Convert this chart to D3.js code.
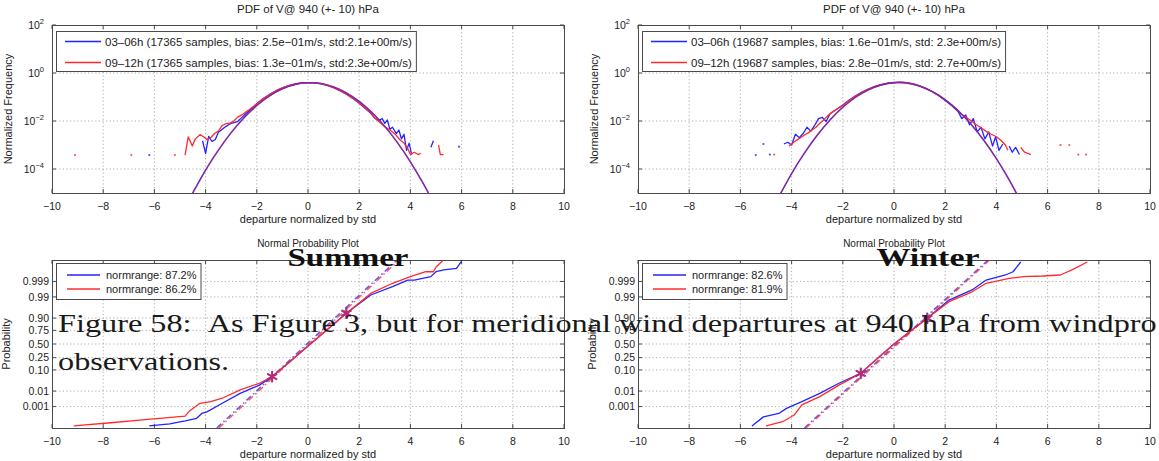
<!DOCTYPE html>
<html>
<head>
<meta charset="utf-8">
<script src="https://cdn.jsdelivr.net/npm/d3@7"></script>
<style>
  body { margin: 0; background: #fff; }
  svg { display: block; }
</style>
</head>
<body>
<svg id="fig" width="1159" height="461"></svg>
<script>
// ---------------- data ----------------
const xTicks = [-10, -8, -6, -4, -2, 0, 2, 4, 6, 8, 10];
const pdfTickExponents = [2, 0, -2, -4];
const probTicks = [0.001, 0.01, 0.10, 0.25, 0.50, 0.75, 0.90, 0.99, 0.999];
const probTickLabels = ["0.001", "0.01", "0.10", "0.25", "0.50", "0.75", "0.90", "0.99", "0.999"];

const pdfTitle = "PDF of V@ 940 (+- 10) hPa";
const probTitle = "Normal Probability Plot";
const xLabel = "departure normalized by std";

const summerPdfLegend = [
  "03\u201306h (17365 samples, bias: 2.5e\u221201m/s, std:2.1e+00m/s)",
  "09\u201312h (17365 samples, bias: 1.3e\u221201m/s, std:2.3e+00m/s)"
];
const winterPdfLegend = [
  "03\u201306h (19687 samples, bias: 1.6e\u221201m/s, std: 2.3e+00m/s)",
  "09\u201312h (19687 samples, bias: 2.8e\u221201m/s, std: 2.7e+00m/s)"
];
const summerProbLegend = ["normrange: 87.2%", "normrange: 86.2%"];
const winterProbLegend = ["normrange: 82.6%", "normrange: 81.9%"];

// empirical PDFs: [departure, normalized frequency]; null = empty bin
const summerEarlyPdf = [
  [-6.2, 3.8e-4], [-6.1, null],
  [-4.12, 1.5e-3], [-4.0, 4.5e-4], [-3.88, 2.3e-3], [-3.75, 1.4e-3], [-3.62, 1.7e-3],
  [-3.5, 3.4e-3], [-3.35, 4.5e-3], [-3.2, 6.0e-3], [-3.05, 7.5e-3], [-2.9, 8.5e-3],
  [-2.75, 9.5e-3], [-2.6, 1.35e-2], [-2.45, 1.9e-2], [-2.2, 3.3e-2], [-2.0, 5.2e-2],
  [-1.75, 0.086], [-1.5, 0.128], [-1.25, 0.183], [-1.0, 0.24], [-0.75, 0.30],
  [-0.5, 0.352], [-0.25, 0.386], [0, 0.398], [0.25, 0.388], [0.5, 0.355],
  [0.75, 0.302], [1.0, 0.243], [1.25, 0.184], [1.5, 0.13], [1.75, 0.088],
  [2.0, 0.055], [2.25, 0.032], [2.45, 0.021], [2.6, 0.0135], [2.75, 0.0105],
  [2.9, 0.0125], [3.0, 0.008], [3.1, 0.011], [3.2, 0.0045], [3.3, 0.0055],
  [3.45, 0.003], [3.55, 0.0042], [3.65, 0.0018], [3.75, 0.0028], [3.85, 0.0006],
  [3.95, 0.0012], [4.05, 0.0004], [4.3, null],
  [4.8, 8e-4], [4.9, 1.5e-3], [5.2, null], [5.9, 8.5e-4]
];
const summerLatePdf = [
  [-9.1, 3.8e-4], [-8.0, null], [-6.9, 3.8e-4], [-6.0, null], [-5.2, 3.8e-4], [-5.0, null],
  [-4.8, 3.8e-4], [-4.68, 2.2e-3], [-4.52, 9e-4], [-4.4, 1.8e-3], [-4.22, 2.7e-3],
  [-4.08, 2.2e-3], [-3.95, 1.7e-3], [-3.8, 2.0e-3], [-3.65, 3.0e-3], [-3.5, 3.8e-3],
  [-3.35, 6.5e-3], [-3.2, 7.8e-3], [-3.05, 8.2e-3], [-2.9, 1.0e-2], [-2.75, 1.45e-2],
  [-2.55, 1.9e-2], [-2.35, 2.7e-2], [-2.1, 4.3e-2], [-1.75, 0.087], [-1.5, 0.125],
  [-1.25, 0.18], [-1.0, 0.238], [-0.75, 0.298], [-0.5, 0.35], [-0.25, 0.384],
  [0, 0.40], [0.25, 0.392], [0.5, 0.36], [0.75, 0.305], [1.0, 0.245], [1.25, 0.186],
  [1.5, 0.132], [1.75, 0.09], [2.0, 0.056], [2.25, 0.033], [2.45, 0.022],
  [2.6, 0.0135], [2.8, 0.0088], [3.0, 0.0058], [3.2, 0.0042], [3.4, 0.0029],
  [3.58, 0.0017], [3.75, 0.0012], [3.9, 0.0007], [4.0, 0.0004], [4.15, 0.0005],
  [4.3, 0.0004], [4.4, 0.00045], [4.7, null],
  [5.1, 1.0e-3], [5.17, 4e-4], [5.3, 4e-4]
];
const winterEarlyPdf = [
  [-5.4, 3.8e-4], [-5.25, null], [-5.1, 1.1e-3], [-5.0, null], [-4.85, 4e-4], [-4.6, null],
  [-4.3, 1.1e-3], [-4.15, 1.3e-3], [-4.0, 1.0e-3], [-3.85, 2.8e-3], [-3.7, 2.0e-3],
  [-3.55, 3.0e-3], [-3.4, 5.5e-3], [-3.25, 3.8e-3], [-3.1, 6.5e-3], [-2.95, 1.25e-2],
  [-2.8, 1.4e-2], [-2.65, 9.5e-3], [-2.5, 2.0e-2], [-2.25, 3.0e-2], [-2.0, 0.046],
  [-1.75, 0.075], [-1.5, 0.112], [-1.25, 0.16], [-1.0, 0.215], [-0.75, 0.275],
  [-0.5, 0.33], [-0.25, 0.38], [0, 0.41], [0.25, 0.42], [0.5, 0.40], [0.75, 0.35],
  [1.0, 0.29], [1.25, 0.225], [1.5, 0.165], [1.75, 0.112], [2.0, 0.072], [2.25, 0.044],
  [2.5, 0.025], [2.65, 0.0125], [2.8, 0.018], [2.95, 0.007], [3.1, 0.0125],
  [3.25, 0.0035], [3.4, 0.0055], [3.55, 0.0018], [3.7, 0.0035], [3.85, 0.0009],
  [3.97, 0.0022], [4.1, 0.0006], [4.25, 0.0011], [4.37, null],
  [4.5, 0.0009], [4.62, 0.0005], [4.75, 0.0008], [4.9, 0.0004]
];
const winterLatePdf = [
  [-4.68, 4e-4], [-4.4, null],
  [-4.1, 9e-4], [-3.95, 1.2e-3], [-3.8, 1.6e-3], [-3.65, 2.0e-3], [-3.5, 2.6e-3],
  [-3.35, 3.2e-3], [-3.2, 4.2e-3], [-3.05, 5.5e-3], [-2.9, 8e-3], [-2.75, 1.1e-2],
  [-2.6, 1.6e-2], [-2.4, 2.4e-2], [-2.2, 3.3e-2], [-2.0, 0.045], [-1.75, 0.072],
  [-1.5, 0.11], [-1.25, 0.158], [-1.0, 0.212], [-0.75, 0.27], [-0.5, 0.325],
  [-0.25, 0.372], [0, 0.40], [0.25, 0.415], [0.5, 0.398], [0.75, 0.352], [1.0, 0.293],
  [1.25, 0.23], [1.5, 0.17], [1.75, 0.117], [2.0, 0.077], [2.25, 0.048], [2.45, 0.031],
  [2.6, 0.02], [2.8, 0.0145], [3.0, 0.0105], [3.2, 0.0072], [3.4, 0.0052],
  [3.6, 0.0037], [3.8, 0.0028], [4.0, 0.0022], [4.2, 0.0015], [4.35, 0.001],
  [4.45, 0.0006], [4.7, null],
  [4.95, 8e-4], [5.1, 5e-4], [5.35, 4e-4], [5.8, null],
  [6.5, 1.0e-3], [6.65, null], [6.85, 1.0e-3], [7.0, null], [7.2, 4e-4], [7.35, null], [7.5, 4e-4]
];

// fitted normal densities
const summerEarlyFit = [
  [-4.8, 3.0e-6], [-4.5, 1.02e-5], [-4.0, 8.9e-5], [-3.5, 6.1e-4], [-3.0, 3.27e-3],
  [-2.5, 0.01357], [-2.0, 0.044], [-1.5, 0.111], [-1.0, 0.218], [-0.5, 0.333],
  [0, 0.397], [0.5, 0.368], [1.0, 0.266], [1.5, 0.150], [2.0, 0.0656], [2.5, 0.0224],
  [3.0, 0.00595], [3.5, 1.23e-3], [4.0, 1.99e-4], [4.5, 2.5e-5], [4.8, 6.4e-6]
];
const summerLateFit = [
  [-4.8, 2.9e-6], [-4.5, 1.05e-5], [-4.0, 9.1e-5], [-3.5, 6.2e-4], [-3.0, 3.3e-3],
  [-2.5, 0.0137], [-2.0, 0.0443], [-1.5, 0.112], [-1.0, 0.219], [-0.5, 0.334],
  [0, 0.397], [0.5, 0.367], [1.0, 0.265], [1.5, 0.149], [2.0, 0.0652], [2.5, 0.0222],
  [3.0, 0.0059], [3.5, 1.22e-3], [4.0, 1.97e-4], [4.5, 2.45e-5], [4.8, 6.3e-6]
];
const winterEarlyFit = [
  [-4.8, 2.2e-6], [-4.5, 7.0e-6], [-4.0, 6.4e-5], [-3.5, 4.6e-4], [-3.0, 2.54e-3],
  [-2.5, 0.011], [-2.0, 0.0371], [-1.5, 0.0973], [-1.0, 0.199], [-0.5, 0.317],
  [0, 0.3925], [0.5, 0.379], [1.0, 0.285], [1.5, 0.167], [2.0, 0.0762], [2.5, 0.0271],
  [3.0, 0.00748], [3.5, 1.61e-3], [4.0, 2.7e-4], [4.5, 3.5e-5], [5.0, 3.6e-6]
];
const winterLateFit = [
  [-4.8, 2.3e-6], [-4.5, 7.2e-6], [-4.0, 6.5e-5], [-3.5, 4.65e-4], [-3.0, 2.56e-3],
  [-2.5, 0.0111], [-2.0, 0.0373], [-1.5, 0.0976], [-1.0, 0.1995], [-0.5, 0.3175],
  [0, 0.3926], [0.5, 0.3787], [1.0, 0.2845], [1.5, 0.1665], [2.0, 0.0758], [2.5, 0.0269],
  [3.0, 0.00742], [3.5, 1.6e-3], [4.0, 2.68e-4], [4.5, 3.45e-5], [5.0, 3.5e-6]
];

// probability plots: [sorted departure, normal quantile of plotting position]
const summerEarlyProb = [
  [-6.2, -4.05], [-5.4, -3.95], [-4.8, -3.8], [-4.35, -3.67], [-4.15, -3.43], [-3.95, -3.35],
  [-3.35, -2.93], [-2.65, -2.44], [-1.9, -2.03], [-1.4, -1.61], [-0.7, -0.86], [0, -0.1],
  [0.7, 0.66], [1.5, 1.52], [2.45, 2.42], [3.3, 2.83], [3.9, 3.16], [4.15, 3.16],
  [4.8, 3.33], [5.0, 3.57], [5.3, 3.66], [5.8, 3.74], [6.0, 4.1]
];
const summerLateProb = [
  [-9.15, -4.05], [-7.7, -3.89], [-6.25, -3.72], [-4.8, -3.56], [-4.65, -3.34],
  [-4.25, -2.95], [-3.8, -2.85], [-3.35, -2.68], [-2.65, -2.27], [-1.9, -1.94],
  [-1.4, -1.61], [-0.7, -0.86], [0, -0.1], [0.7, 0.66], [1.5, 1.52], [2.45, 2.5],
  [3.3, 3.0], [4.0, 3.33], [4.6, 3.57], [4.9, 3.57], [5.0, 3.8], [5.25, 4.1]
];
const winterEarlyProb = [
  [-5.55, -4.05], [-5.1, -3.6], [-4.5, -3.43], [-4.2, -3.18], [-3.6, -2.85],
  [-2.9, -2.44], [-2.15, -1.94], [-1.3, -1.45], [-0.65, -0.72], [0, 0.0], [0.65, 0.64],
  [1.3, 1.27], [2.15, 2.17], [3.05, 2.67], [3.6, 3.16], [4.35, 3.41], [4.65, 3.57], [4.95, 4.05]
];
const winterLateProb = [
  [-5.0, -4.05], [-4.35, -3.84], [-3.9, -3.51], [-3.6, -3.01], [-2.9, -2.6],
  [-2.15, -2.03], [-1.3, -1.45], [-0.65, -0.72], [0, 0.0], [0.65, 0.64], [1.3, 1.27],
  [2.15, 2.09], [3.05, 2.58], [3.6, 3.0], [4.5, 3.24], [5.05, 3.33], [5.8, 3.36],
  [6.5, 3.41], [6.95, 3.66], [7.55, 4.05]
];
// normal-range end points and reference (fit) lines
const summerRangeMarks = [[-1.4, -1.61], [1.5, 1.52]];
const winterRangeMarks = [[-1.3, -1.45], [1.3, 1.27]];
const summerEarlyRef = [[-3.56, -4.15], [3.48, 4.15]];
const summerLateRef = [[-3.48, -4.15], [3.56, 4.15]];
const winterEarlyRef = [[-3.5, -4.15], [3.68, 4.15]];
const winterLateRef = [[-3.44, -4.15], [3.74, 4.15]];

const seasonLabels = ["Summer", "Winter"];
const captionLines = [
  "Figure 58:\u2002As Figure 3, but for meridional wind departures at 940 hPa from windpro",
  "observations."
];

// ---------------- drawing ----------------
const svg = d3.select("#fig");
const SANS = "'Liberation Sans', Arial, Helvetica, sans-serif";
const SERIF = "'Liberation Serif', 'Times New Roman', serif";
const BLUE = "#2323ff", RED = "#ff2b2b", FRAME = "#4a4a4a", GRID = "#9a9a9a", INK = "#222";

const layout = {
  tl: { x: 52, y: 25, w: 512, h: 168 },
  tr: { x: 638, y: 25, w: 512, h: 168 },
  bl: { x: 52, y: 260, w: 512, h: 168 },
  br: { x: 638, y: 260, w: 512, h: 168 }
};
const TICK_FS = 10.5, LABEL_FS = 11;

// inverse standard normal CDF (Acklam)
function normInv(p) {
  const a = [-3.969683028665376e+01, 2.209460984245205e+02, -2.759285104469687e+02, 1.383577518672690e+02, -3.066479806614716e+01, 2.506628277459239e+00];
  const b = [-5.447609879822406e+01, 1.615858368580409e+02, -1.556989798598866e+02, 6.680131188771972e+01, -1.328068155288572e+01];
  const c = [-7.784894002430293e-03, -3.223964580411365e-01, -2.400758277161838e+00, -2.549732539343734e+00, 4.374664141464968e+00, 2.938163982698783e+00];
  const d = [7.784695709041462e-03, 3.224671290700398e-01, 2.445134137142996e+00, 3.754408661907416e+00];
  const pl = 0.02425;
  let q, r;
  if (p < pl) {
    q = Math.sqrt(-2 * Math.log(p));
    return (((((c[0]*q+c[1])*q+c[2])*q+c[3])*q+c[4])*q+c[5]) / ((((d[0]*q+d[1])*q+d[2])*q+d[3])*q+1);
  }
  if (p <= 1 - pl) {
    q = p - 0.5; r = q * q;
    return (((((a[0]*r+a[1])*r+a[2])*r+a[3])*r+a[4])*r+a[5])*q / (((((b[0]*r+b[1])*r+b[2])*r+b[3])*r+b[4])*r+1);
  }
  q = Math.sqrt(-2 * Math.log(1 - p));
  return -(((((c[0]*q+c[1])*q+c[2])*q+c[3])*q+c[4])*q+c[5]) / ((((d[0]*q+d[1])*q+d[2])*q+d[3])*q+1);
}

let clipCount = 0;
function frameAxes(p, x, yPositions, title, titleSize, titleOffset) {
  const g = svg.append("g");
  // dotted grid
  g.selectAll(".gx").data(xTicks.slice(1, -1)).join("line")
    .attr("x1", d => x(d)).attr("x2", d => x(d))
    .attr("y1", p.y).attr("y2", p.y + p.h)
    .attr("stroke", GRID).attr("stroke-width", 0.8).attr("stroke-dasharray", "1.2,2.4");
  g.selectAll(".gy").data(yPositions.filter(v => v > p.y + 1 && v < p.y + p.h - 1)).join("line")
    .attr("x1", p.x).attr("x2", p.x + p.w)
    .attr("y1", d => d).attr("y2", d => d)
    .attr("stroke", GRID).attr("stroke-width", 0.8).attr("stroke-dasharray", "1.2,2.4");
  // frame
  g.append("rect").attr("x", p.x + 0.5).attr("y", p.y + 0.5).attr("width", p.w).attr("height", p.h)
    .attr("fill", "none").attr("stroke", FRAME).attr("stroke-width", 1);
  // inward ticks
  const tk = 4;
  xTicks.forEach(t => {
    g.append("line").attr("x1", x(t)).attr("x2", x(t)).attr("y1", p.y + p.h).attr("y2", p.y + p.h - tk).attr("stroke", FRAME);
    g.append("line").attr("x1", x(t)).attr("x2", x(t)).attr("y1", p.y).attr("y2", p.y + tk).attr("stroke", FRAME);
  });
  yPositions.forEach(v => {
    g.append("line").attr("x1", p.x).attr("x2", p.x + tk).attr("y1", v).attr("y2", v).attr("stroke", FRAME);
    g.append("line").attr("x1", p.x + p.w).attr("x2", p.x + p.w - tk).attr("y1", v).attr("y2", v).attr("stroke", FRAME);
  });
  // x tick labels
  g.selectAll(".xl").data(xTicks).join("text")
    .attr("x", d => x(d)).attr("y", p.y + p.h + 17)
    .attr("text-anchor", "middle").attr("font-family", SANS).attr("font-size", TICK_FS).attr("fill", INK)
    .text(d => d < 0 ? "\u2212" + Math.abs(d) : String(d));
  g.append("text").attr("x", p.x + p.w / 2).attr("y", p.y + p.h + 29.5)
    .attr("text-anchor", "middle").attr("font-family", SANS).attr("font-size", LABEL_FS).attr("fill", INK)
    .text(xLabel);
  g.append("text").attr("x", p.x + p.w / 2).attr("y", p.y - titleOffset)
    .attr("text-anchor", "middle").attr("font-family", SANS).attr("font-size", titleSize).attr("fill", INK)
    .text(title);
  const id = "clip" + (clipCount++);
  svg.append("clipPath").attr("id", id).append("rect")
    .attr("x", p.x).attr("y", p.y).attr("width", p.w + 1).attr("height", p.h + 1);
  return id;
}

function drawLegend(p, labels, box) {
  const g = svg.append("g");
  const rect = g.append("rect").attr("x", p.x + box.dx + 0.5).attr("y", p.y + box.dy + 0.5)
    .attr("height", box.h).attr("fill", "#fff").attr("stroke", FRAME).attr("stroke-width", 1);
  let maxW = 0;
  labels.forEach((lab, i) => {
    const yy = p.y + box.dy + box.row0 + i * box.rowStep;
    g.append("line").attr("x1", p.x + box.l0).attr("x2", p.x + box.l1).attr("y1", yy).attr("y2", yy)
      .attr("stroke", i === 0 ? BLUE : RED).attr("stroke-width", 1.4);
    const t = g.append("text").attr("x", p.x + box.tx).attr("y", yy + box.fs * 0.36)
      .attr("font-family", SANS).attr("font-size", box.fs).attr("fill", INK).text(lab);
    maxW = Math.max(maxW, t.node().getComputedTextLength());
  });
  rect.attr("width", box.tx + maxW + 4 - box.dx);
}

function pdfPanel(p, early, late, earlyFit, lateFit, legend, yLabelX) {
  const x = d3.scaleLinear().domain([-10, 10]).range([p.x, p.x + p.w]);
  const y = d3.scaleLog().domain([1e-5, 1e2]).range([p.y + p.h, p.y]);
  const clip = frameAxes(p, x, pdfTickExponents.map(e => y(Math.pow(10, e))), pdfTitle, 11.5, 12);

  // y tick labels as powers of ten
  pdfTickExponents.forEach(e => {
    const t = svg.append("text").attr("x", p.x - 8).attr("y", y(Math.pow(10, e)) + 3.8)
      .attr("text-anchor", "end").attr("font-family", SANS).attr("font-size", TICK_FS).attr("fill", INK);
    t.append("tspan").text("10");
    t.append("tspan").attr("dy", -5).attr("font-size", 7.5).text(e < 0 ? "\u2212" + Math.abs(e) : String(e));
  });
  svg.append("text").attr("transform", `translate(${yLabelX},${p.y + p.h / 2}) rotate(-90)`)
    .attr("text-anchor", "middle").attr("font-family", SANS).attr("font-size", LABEL_FS).attr("fill", INK)
    .text("Normalized Frequency");

  const g = svg.append("g").attr("clip-path", `url(#${clip})`);
  const line = d3.line().defined(d => d[1] != null).x(d => x(d[0])).y(d => y(d[1]));
  [[early, BLUE], [late, RED]].forEach(([data, col]) => {
    g.append("path").attr("d", line(data)).attr("fill", "none").attr("stroke", col)
      .attr("stroke-width", 1.3).attr("stroke-linejoin", "round");
    // bins surrounded by empty bins show as single dots
    data.forEach((d, i) => {
      if (d[1] == null) return;
      const prev = data[i - 1], next = data[i + 1];
      if ((!prev || prev[1] == null) && (!next || next[1] == null)) {
        g.append("circle").attr("cx", x(d[0])).attr("cy", y(d[1])).attr("r", 1.1).attr("fill", col).attr("opacity", 0.8);
      }
    });
  });
  const fitLine = d3.line().x(d => x(d[0])).y(d => y(d[1])).curve(d3.curveNatural);
  [[earlyFit, BLUE, 1], [lateFit, RED, 0.45]].forEach(([data, col, op]) => {
    g.append("path").attr("d", fitLine(data)).attr("fill", "none").attr("stroke", col)
      .attr("stroke-width", 1.4).attr("opacity", op);
  });

  drawLegend(p, legend, { dx: 4, dy: 6, h: 40, row0: 10.5, rowStep: 21, l0: 13, l1: 49, tx: 53, fs: 11.5 });
}

function probPanel(p, early, late, earlyRef, lateRef, marks, legend, yLabelX) {
  const x = d3.scaleLinear().domain([-10, 10]).range([p.x, p.x + p.w]);
  const y = d3.scaleLinear().domain([-4.15, 4.15]).range([p.y + p.h, p.y]);
  const clip = frameAxes(p, x, probTicks.map(v => y(normInv(v))), probTitle, 10, 13);

  probTicks.forEach((v, i) => {
    svg.append("text").attr("x", p.x - 3).attr("y", y(normInv(v)) + 3.8)
      .attr("text-anchor", "end").attr("font-family", SANS).attr("font-size", TICK_FS).attr("fill", INK)
      .text(probTickLabels[i]);
  });
  svg.append("text").attr("transform", `translate(${yLabelX},${p.y + p.h / 2}) rotate(-90)`)
    .attr("text-anchor", "middle").attr("font-family", SANS).attr("font-size", LABEL_FS).attr("fill", INK)
    .text("Probability");

  const g = svg.append("g").attr("clip-path", `url(#${clip})`);
  const line = d3.line().x(d => x(d[0])).y(d => y(d[1]));
  [[earlyRef, BLUE], [lateRef, RED]].forEach(([data, col]) => {
    g.append("path").attr("d", line(data)).attr("fill", "none").attr("stroke", col)
      .attr("stroke-width", 1.5).attr("stroke-dasharray", "6,3,1.5,3").attr("opacity", 0.75);
  });
  [[early, BLUE], [late, RED]].forEach(([data, col]) => {
    g.append("path").attr("d", line(data)).attr("fill", "none").attr("stroke", col)
      .attr("stroke-width", 1.3).attr("stroke-linejoin", "round");
  });
  const sym = d3.symbol().type(d3.symbolAsterisk).size(90);
  [BLUE, RED].forEach((col, k) => {
    g.selectAll(null).data(marks).join("path")
      .attr("transform", d => `translate(${x(d[0])},${y(d[1])})`)
      .attr("d", sym()).attr("fill", "none").attr("stroke", col)
      .attr("stroke-width", 1.8).attr("opacity", k ? 0.7 : 1);
  });

  drawLegend(p, legend, { dx: 4, dy: 3, h: 36, row0: 12, rowStep: 14, l0: 15, l1: 48, tx: 54, fs: 11 });
}

pdfPanel(layout.tl, summerEarlyPdf, summerLatePdf, summerEarlyFit, summerLateFit, summerPdfLegend, 12);
pdfPanel(layout.tr, winterEarlyPdf, winterLatePdf, winterEarlyFit, winterLateFit, winterPdfLegend, 598);
probPanel(layout.bl, summerEarlyProb, summerLateProb, summerEarlyRef, summerLateRef, summerRangeMarks, summerProbLegend, 10);
probPanel(layout.br, winterEarlyProb, winterLateProb, winterEarlyRef, winterLateRef, winterRangeMarks, winterProbLegend, 596);

// season headings over the lower panels
const seasonCenters = [348, 928], seasonWidths = [121, 103];
seasonLabels.forEach((s, i) => {
  svg.append("text").attr("x", seasonCenters[i] - seasonWidths[i] / 2).attr("y", 266)
    .attr("font-family", SERIF).attr("font-weight", "bold").attr("font-size", 25).attr("fill", "#111")
    .attr("textLength", seasonWidths[i]).attr("lengthAdjust", "spacingAndGlyphs")
    .text(s);
});

// caption text running across the figure
const capFirst = svg.append("text").attr("font-family", SERIF).attr("font-size", 25).attr("fill", "#1a1a1a")
  .text(captionLines[0]);
const sx = (1157 - 58) / capFirst.node().getComputedTextLength();
capFirst.attr("transform", `translate(58,332) scale(${sx},1)`);
svg.append("text").attr("font-family", SERIF).attr("font-size", 25).attr("fill", "#1a1a1a")
  .attr("transform", `translate(58,370) scale(${sx},1)`)
  .text(captionLines[1]);
</script>
</body>
</html>
